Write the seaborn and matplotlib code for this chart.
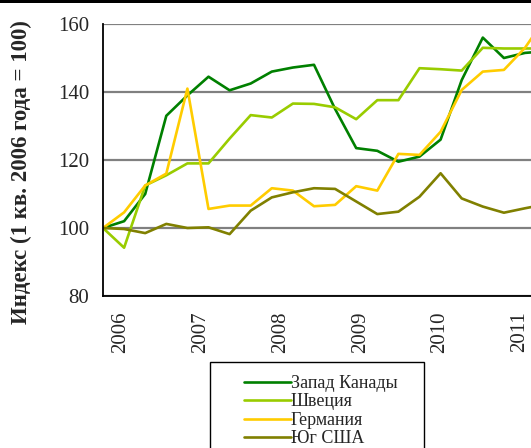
import numpy as np
import pandas as pd
import matplotlib
matplotlib.use("Agg")
import matplotlib.pyplot as plt
from matplotlib.patches import Rectangle
import seaborn as sns

# Quarterly index values, 2006 Q1 .. 2011 Q2
quarters = [f"{y} Q{q}" for y in range(2006, 2012) for q in range(1, 5)][:22]
year_labels = ["2006", "2007", "2008", "2009", "2010", "2011"]

zapad_kanady = [100, 102, 110, 133, 139, 144.5, 140.5, 142.5, 146, 147.2, 148, 135,
                123.5, 122.7, 119.5, 121, 126, 143.5, 156, 150, 151.5, 152]
shvetsiya = [100, 94.2, 112.5, 115.5, 119, 119, 126.3, 133.2, 132.5, 136.6, 136.5, 135.5,
             132, 137.6, 137.6, 147, 146.7, 146.3, 153, 152.8, 152.8, 152.8]
germaniya = [100, 104.6, 112.5, 116, 141, 105.6, 106.6, 106.6, 111.7, 111, 106.4, 106.8,
             112.3, 111, 121.8, 121.5, 128.3, 140.6, 146, 146.5, 153, 162]
yug_ssha = [100, 99.7, 98.5, 101.2, 100, 100.2, 98.2, 105.1, 109, 110.5, 111.7, 111.5,
            107.8, 104.1, 104.8, 109.2, 116.1, 108.7, 106.3, 104.5, 105.8, 107]

series_names = ["Запад Канады", "Швеция", "Германия", "Юг США"]
colors = ["#008000", "#99CC00", "#FFCC00", "#808000"]

pos = np.arange(len(quarters))
df = pd.concat([
    pd.DataFrame({"pos": pos, "value": vals, "series": name})
    for name, vals in zip(series_names, [zapad_kanady, shvetsiya, germaniya, yug_ssha])
])

sns.set_style("white")
plt.rcParams["font.family"] = ["Liberation Serif", "DejaVu Serif"]

fig = plt.figure(figsize=(5.31, 4.48), dpi=100)
W, H = 531, 448
x0, x1 = 103, 103 + 21.1 * 21
y_top, y_bot = 24, 296
ax = fig.add_axes([x0 / W, 1 - y_bot / H, (x1 - x0) / W, (y_bot - y_top) / H])

sns.lineplot(data=df, x="pos", y="value", hue="series", hue_order=series_names,
             palette=colors, linewidth=1.9, ax=ax, legend=False)

ax.set_xlim(0, 21)
ax.set_ylim(80, 160)
ax.set_yticks([80, 100, 120, 140, 160])

# year tick marks every 4 quarters; the year labels sit on a slightly tighter spacing
ax.set_xticks(np.arange(0, 21, 4))
ax.set_xticklabels([])
ax.set_xticks(0.85 + 3.78 * np.arange(len(year_labels)), minor=True)
ax.set_xticklabels(year_labels, minor=True, rotation=90)
ax.tick_params(axis="x", which="minor", length=0, labelsize=15, pad=11)
ax.tick_params(axis="both", which="major", direction="out", length=6, width=1,
               color="black", labelsize=15, pad=4)
ax.yaxis.grid(True, color="#808080", linewidth=1.6)
ax.set_axisbelow(True)
for s in ["top", "right"]:
    ax.spines[s].set_visible(False)
for s in ["left", "bottom"]:
    ax.spines[s].set_color("black")
    ax.spines[s].set_linewidth(1.3)

ax.set_xlabel("")
ax.set_ylabel("Индекс (1 кв. 2006 года = 100)", fontsize=16.5, fontweight="bold")
ax.yaxis.set_label_coords(-0.16, 0.456)

# legend (frame drawn separately, box is cut by the figure edge)
handles = ax.get_lines()[:4]
leg = fig.legend(handles, series_names, loc="upper left",
                 bbox_to_anchor=(235 / W, 1 - 366 / H), frameon=False,
                 fontsize=13, handlelength=2.6, handletextpad=0.0,
                 labelspacing=0.08, borderpad=0.0)
fig.patches.append(Rectangle((210 / W, -0.01), (424 - 210) / W, 0.01 + (448 - 362) / H,
                             transform=fig.transFigure, fill=False,
                             edgecolor="black", linewidth=1))
# black band along the top edge
fig.patches.append(Rectangle((0, 1 - 3 / H), 1, 3 / H, transform=fig.transFigure,
                             facecolor="black", edgecolor="none"))

fig.savefig("out.png", dpi=100)
